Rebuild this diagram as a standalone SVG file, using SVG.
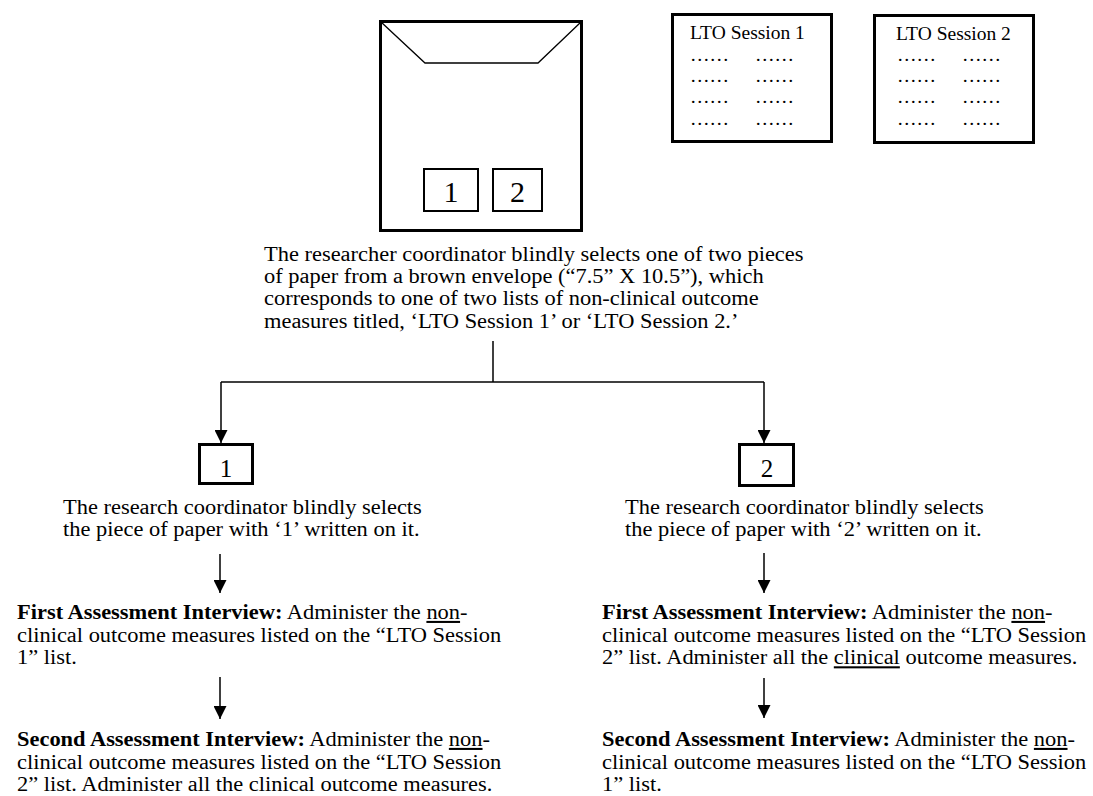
<svg xmlns="http://www.w3.org/2000/svg" width="1093" height="796" viewBox="0 0 1093 796">
<style>
.t{font-family:"Liberation Serif","Times New Roman",serif;font-size:20.5px;fill:#000}
.b{font-weight:bold}
.u{text-decoration:underline}
.box{fill:none;stroke:#000;stroke-width:3}
.sbox{fill:none;stroke:#000;stroke-width:2}
.ln{fill:none;stroke:#000;stroke-width:1.5}
.dig{font-family:"Liberation Serif","Times New Roman",serif;fill:#000;text-anchor:middle}
.lto{font-family:"Liberation Serif","Times New Roman",serif;font-size:19.5px;fill:#000}
</style>
<defs>
<marker id="ah" markerUnits="userSpaceOnUse" markerWidth="13" markerHeight="13" refX="13" refY="6.5" orient="auto">
<path d="M0,0 L13,6.5 L0,13 Z" fill="#000"/>
</marker>
</defs>
<rect width="1093" height="796" fill="#fff"/>

<g id="envelope">
<rect class="box" x="380.5" y="21.5" width="201" height="209"/>
<polyline points="381,22 425,63 538,63 581,22" fill="none" stroke="#000" stroke-width="1.3"/>
<rect class="sbox" x="424" y="169" width="54" height="42"/>
<rect class="sbox" x="493" y="169" width="49" height="42"/>
<text class="dig" x="451" y="202" font-size="30">1</text>
<text class="dig" x="517.5" y="202" font-size="30">2</text>
</g>

<g id="lto1">
<rect class="box" x="672.5" y="14.5" width="159" height="127"/>
<text class="lto" x="690" y="39">LTO Session 1</text>
<text class="lto" x="690" y="61">……</text><text class="lto" x="755" y="61">……</text>
<text class="lto" x="690" y="82">……</text><text class="lto" x="755" y="82">……</text>
<text class="lto" x="690" y="103">……</text><text class="lto" x="755" y="103">……</text>
<text class="lto" x="690" y="125">……</text><text class="lto" x="755" y="125">……</text>
</g>

<g id="lto2">
<rect class="box" x="874.5" y="15.5" width="159" height="127"/>
<text class="lto" x="896" y="40">LTO Session 2</text>
<text class="lto" x="897" y="61">……</text><text class="lto" x="962" y="61">……</text>
<text class="lto" x="897" y="82">……</text><text class="lto" x="962" y="82">……</text>
<text class="lto" x="897" y="103">……</text><text class="lto" x="962" y="103">……</text>
<text class="lto" x="897" y="125">……</text><text class="lto" x="962" y="125">……</text>
</g>

<g id="intro">
<text class="t" transform="translate(264,260.5) scale(1.095,1)">
<tspan x="0" y="0">The researcher coordinator blindly selects one of two pieces</tspan>
<tspan x="0" y="22.5">of paper from a brown envelope (“7.5” X 10.5”), which</tspan>
<tspan x="0" y="45">corresponds to one of two lists of non-clinical outcome</tspan>
<tspan x="0" y="67.5">measures titled, ‘LTO Session 1’ or ‘LTO Session 2.’</tspan>
</text>
</g>

<g id="connectors">
<path class="ln" d="M493,341 V382"/>
<path class="ln" d="M221,382 H764"/>
<path class="ln" d="M221,382 V443" marker-end="url(#ah)"/>
<path class="ln" d="M764,382 V443" marker-end="url(#ah)"/>
<path class="ln" d="M220,554 V593" marker-end="url(#ah)"/>
<path class="ln" d="M220,677 V719" marker-end="url(#ah)"/>
<path class="ln" d="M764,553 V593" marker-end="url(#ah)"/>
<path class="ln" d="M764,678 V718" marker-end="url(#ah)"/>
</g>

<g id="choice1">
<rect class="box" x="199.5" y="444.5" width="53" height="39"/>
<text class="dig" x="226" y="477" font-size="25">1</text>
<text class="t" transform="translate(63,513.5) scale(1.095,1)">
<tspan x="0" y="0">The research coordinator blindly selects</tspan>
<tspan x="0" y="22.5">the piece of paper with ‘1’ written on it.</tspan>
</text>
</g>

<g id="choice2">
<rect class="box" x="739.5" y="444.5" width="54" height="41"/>
<text class="dig" x="767" y="477" font-size="25">2</text>
<text class="t" transform="translate(625,513.5) scale(1.095,1)">
<tspan x="0" y="0">The research coordinator blindly selects</tspan>
<tspan x="0" y="22.5">the piece of paper with ‘2’ written on it.</tspan>
</text>
</g>

<g id="left-first">
<text class="t" transform="translate(17,619) scale(1.095,1)">
<tspan x="0" y="0"><tspan class="b">First Assessment Interview:</tspan> Administer the <tspan class="u">non</tspan>-</tspan>
<tspan x="0" y="22.7">clinical outcome measures listed on the “LTO Session</tspan>
<tspan x="0" y="45.4">1” list.</tspan>
</text>
</g>

<g id="left-second">
<text class="t" transform="translate(17,746) scale(1.095,1)">
<tspan x="0" y="0"><tspan class="b">Second Assessment Interview:</tspan> Administer the <tspan class="u">non</tspan>-</tspan>
<tspan x="0" y="22.7">clinical outcome measures listed on the “LTO Session</tspan>
<tspan x="0" y="45.4">2” list. Administer all the clinical outcome measures.</tspan>
</text>
</g>

<g id="right-first">
<text class="t" transform="translate(602,619) scale(1.095,1)">
<tspan x="0" y="0"><tspan class="b">First Assessment Interview:</tspan> Administer the <tspan class="u">non</tspan>-</tspan>
<tspan x="0" y="22.7">clinical outcome measures listed on the “LTO Session</tspan>
<tspan x="0" y="45.4">2” list. Administer all the <tspan class="u">clinical</tspan> outcome measures.</tspan>
</text>
</g>

<g id="right-second">
<text class="t" transform="translate(602,746) scale(1.095,1)">
<tspan x="0" y="0"><tspan class="b">Second Assessment Interview:</tspan> Administer the <tspan class="u">non</tspan>-</tspan>
<tspan x="0" y="22.7">clinical outcome measures listed on the “LTO Session</tspan>
<tspan x="0" y="45.4">1” list.</tspan>
</text>
</g>
</svg>
